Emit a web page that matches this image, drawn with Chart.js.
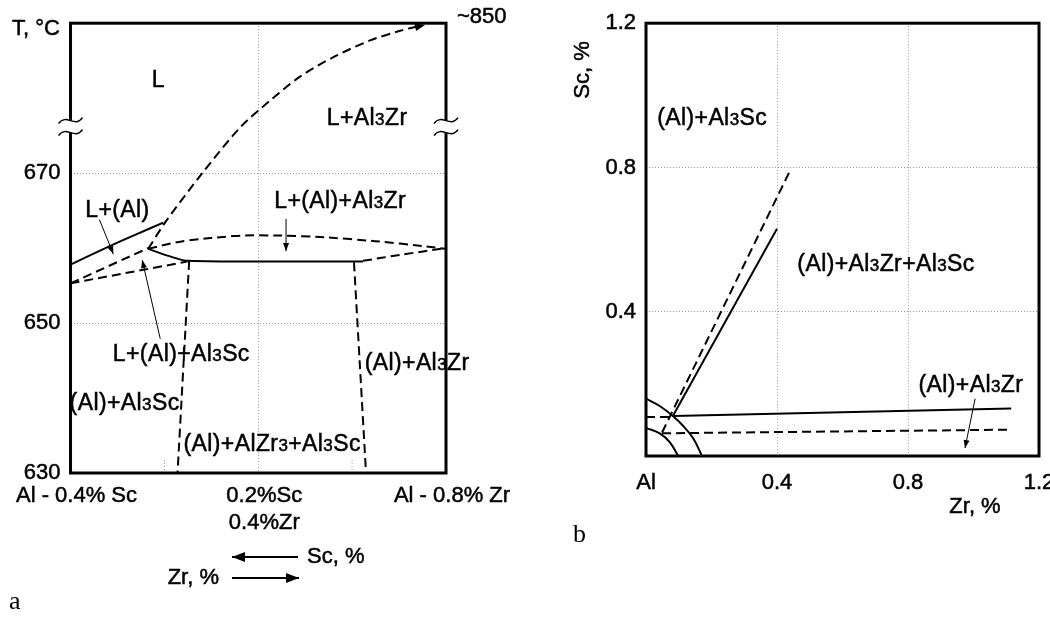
<!DOCTYPE html>
<html>
<head>
<meta charset="utf-8">
<script src="https://cdn.jsdelivr.net/npm/chart.js@4"></script>
<style>
  html, body { margin: 0; padding: 0; background: #fff; overflow: hidden; }
  body { width: 1050px; height: 621px; position: relative; }
  .box { position: absolute; top: 0; }
  #boxA { left: 0; }
  #boxB { left: 530px; }
</style>
</head>
<body>
<div class="box" id="boxA"><canvas id="chartA" width="540" height="621"></canvas></div>
<div class="box" id="boxB"><canvas id="chartB" width="540" height="621"></canvas></div>
<script>
// ---- (a) polythermal section Al-0.4%Sc -> Al-0.8%Zr ----
const sectionTicks = [0, 0.5, 1];
const sectionTickLabels = ['Al - 0.4% Sc', ['0.2%Sc', '0.4%Zr'], 'Al - 0.8% Zr'];
const tempTicks = [630, 650, 670];
const tempBreak = 676.2;          // axis is broken here, top edge is ~850
const minorTicksA = [0.25, 0.75];

const liquidusZrX = [0.207, 0.253, 0.351, 0.452, 0.532, 0.612, 0.705, 0.798, 0.878, 0.936];
const liquidusZrT = [659.9, 663.5, 670.0, 676.1, 679.7, 682.9, 685.6, 687.7, 689.0, 689.7];
const liquidusAlX = [0, 0.106, 0.178, 0.247];
const liquidusAlT = [657.8, 660.3, 661.9, 663.4];
const upperLeftX = [0, 0.207];
const upperLeftT = [655.3, 660.0];
const lowerLeftX = [0, 0.311];
const lowerLeftT = [655.3, 658.2];
const eutecticX = [0.207, 0.258, 0.314, 0.479, 0.779];
const eutecticT = [659.9, 659.0, 658.3, 658.2, 658.2];
const archX = [0.207, 0.266, 0.311, 0.434, 0.5, 0.612, 0.745, 0.878, 1.0];
const archT = [659.9, 660.6, 661.0, 661.6, 661.7, 661.6, 661.2, 660.6, 659.9];
const lowerRightX = [0.779, 0.878, 1.0];
const lowerRightT = [658.3, 659.1, 660.0];
const solvusScX = [0.316, 0.285];
const solvusScT = [658.3, 630];
const solvusZrX = [0.755, 0.787];
const solvusZrT = [658.1, 630];

// ---- (b) isothermal projection Zr-Sc ----
const zrTicks = [0, 0.4, 0.8, 1.2];
const zrTickLabels = ['Al', '0.4', '0.8', '1.2'];
const scTicks = [0.4, 0.8, 1.2];

const steepSolidZr = [0.082, 0.4];
const steepSolidSc = [0.111, 0.63];
const steepDashZr = [0.049, 0.437];
const steepDashSc = [0.065, 0.786];
const flatSolidZr = [0.082, 1.115];
const flatSolidSc = [0.111, 0.132];
const shortDashZr = [0, 0.082];
const shortDashSc = [0.108, 0.108];
const flatDashZr = [0.049, 1.112];
const flatDashSc = [0.063, 0.073];
const outerArcZr = [0, 0.043, 0.082, 0.113, 0.144, 0.171];
const outerArcSc = [0.159, 0.138, 0.111, 0.084, 0.049, 0];
const innerArcZr = [0, 0.043, 0.073, 0.098];
const innerArcSc = [0.078, 0.062, 0.038, 0];

const FONT = '"Liberation Sans", Arial, Helvetica, sans-serif';
const SERIF = '"Liberation Serif", "DejaVu Serif", serif';
const DASH = [9, 5];
const TICK_FONT = { family: FONT, size: 22 };

function pts(xs, ys) {
  return xs.map((x, i) => ({ x: x, y: ys[i] }));
}

function curve(xs, ys, dashed, extra) {
  return Object.assign({
    data: pts(xs, ys),
    showLine: true,
    borderColor: '#000',
    borderWidth: 2,
    borderDash: dashed ? DASH : [],
    pointRadius: 0,
    fill: false
  }, extra || {});
}

// digits that follow a letter (Al3Zr) are drawn smaller
function drawRich(ctx, str, cx, cy, size) {
  const runs = [];
  for (let i = 0; i < str.length; i++) {
    const small = /\d/.test(str[i]) && /[A-Za-z]/.test(str[i - 1] || '');
    const last = runs[runs.length - 1];
    if (last && last.small === small) last.t += str[i];
    else runs.push({ t: str[i], small: small });
  }
  ctx.letterSpacing = '0.4px';
  let w = 0;
  runs.forEach(r => {
    ctx.font = (r.small ? Math.round(size * 0.74) : size) + 'px ' + FONT;
    r.w = ctx.measureText(r.t).width;
    w += r.w;
  });
  let x = cx - w / 2;
  ctx.textAlign = 'left';
  ctx.textBaseline = 'alphabetic';
  ctx.lineWidth = 0.5;
  runs.forEach(r => {
    ctx.font = (r.small ? Math.round(size * 0.74) : size) + 'px ' + FONT;
    ctx.fillText(r.t, x, cy + size * 0.36);
    ctx.strokeText(r.t, x, cy + size * 0.36);
    x += r.w;
  });
  ctx.letterSpacing = '0px';
}

function plainText(ctx, str, x, y) {
  ctx.lineWidth = 0.5;
  ctx.fillText(str, x, y);
  ctx.strokeText(str, x, y);
}

function arrow(ctx, x1, y1, x2, y2, head, width) {
  ctx.beginPath();
  ctx.moveTo(x1, y1);
  ctx.lineTo(x2, y2);
  ctx.stroke();
  arrowHead(ctx, x1, y1, x2, y2, head, width);
}

function arrowHead(ctx, x1, y1, x2, y2, head, width) {
  const a = Math.atan2(y2 - y1, x2 - x1);
  const bx = x2 - head * Math.cos(a), by = y2 - head * Math.sin(a);
  ctx.beginPath();
  ctx.moveTo(x2, y2);
  ctx.lineTo(bx + width * Math.sin(a), by - width * Math.cos(a));
  ctx.lineTo(bx - width * Math.sin(a), by + width * Math.cos(a));
  ctx.closePath();
  ctx.fill();
}

function axisBreak(ctx, x, y) {
  ctx.fillStyle = '#fff';
  ctx.fillRect(x - 3, y - 6, 6, 12);
  ctx.strokeStyle = '#000';
  ctx.lineWidth = 1.5;
  [y - 6, y + 6].forEach(yy => {
    ctx.beginPath();
    ctx.moveTo(x - 12, yy + 3);
    ctx.bezierCurveTo(x - 4, yy - 8, x + 4, yy + 8, x + 12, yy - 3);
    ctx.stroke();
  });
  ctx.fillStyle = '#000';
}

const phaseLabelsA = [
  ['L', 0.234, 682.6],
  ['L+Al3Zr', 0.79, 677.5],
  ['L+(Al)', 0.125, 665.3],
  ['L+(Al)+Al3Zr', 0.718, 666.4],
  ['L+(Al)+Al3Sc', 0.295, 646.0],
  ['(Al)+Al3Zr', 0.923, 644.9],
  ['(Al)+Al3Sc', 0.144, 639.5],
  ['(Al)+AlZr3+Al3Sc', 0.537, 634.0]
];
const leadersA = [
  [0.077, 663.8, 0.114, 659.2],
  [0.239, 647.9, 0.191, 658.4],
  [0.574, 663.9, 0.574, 659.6]
];

const decoA = {
  id: 'decoA',
  afterDraw(chart) {
    const { ctx, chartArea: a, scales: { x, y } } = chart;
    ctx.save();
    // short dotted ticks at the bottom edge
    ctx.strokeStyle = '#999';
    ctx.lineWidth = 1;
    ctx.setLineDash([1, 2]);
    minorTicksA.forEach(v => {
      const px = x.getPixelForValue(v);
      ctx.beginPath();
      ctx.moveTo(px, a.bottom);
      ctx.lineTo(px, a.bottom - 13);
      ctx.stroke();
    });
    ctx.setLineDash([]);
    ctx.strokeStyle = '#000';
    ctx.fillStyle = '#000';
    ctx.lineWidth = 3;
    ctx.strokeRect(a.left, a.top, a.right - a.left, a.bottom - a.top);
    const yb = y.getPixelForValue(tempBreak);
    axisBreak(ctx, a.left, yb);
    axisBreak(ctx, a.right, yb);

    // arrow tip on the Al3Zr liquidus
    const n = liquidusZrX.length;
    arrowHead(ctx, x.getPixelForValue(liquidusZrX[n - 2]), y.getPixelForValue(liquidusZrT[n - 2]),
      x.getPixelForValue(liquidusZrX[n - 1]) + 3, y.getPixelForValue(liquidusZrT[n - 1]) - 0.5, 10, 4);

    phaseLabelsA.forEach(l => drawRich(ctx, l[0], x.getPixelForValue(l[1]), y.getPixelForValue(l[2]), 23));

    ctx.lineWidth = 1;
    leadersA.forEach(l => arrow(ctx, x.getPixelForValue(l[0]), y.getPixelForValue(l[1]),
      x.getPixelForValue(l[2]), y.getPixelForValue(l[3]), 8, 3));

    ctx.font = '22px ' + FONT;
    ctx.textBaseline = 'middle';
    ctx.textAlign = 'right';
    plainText(ctx, 'T, °C', 60, 29);
    ctx.textAlign = 'left';
    plainText(ctx, '~850', 457, 17);

    // composition direction arrows
    plainText(ctx, 'Sc, %', 307, 557);
    ctx.textAlign = 'right';
    plainText(ctx, 'Zr, %', 219, 578);
    ctx.lineWidth = 2;
    arrow(ctx, 298, 557, 232, 557, 13, 5);
    arrow(ctx, 232, 578, 299, 578, 13, 5);

    ctx.font = '26px ' + SERIF;
    ctx.textAlign = 'left';
    ctx.fillText('a', 9, 602);
    ctx.restore();
  }
};

new Chart(document.getElementById('chartA'), {
  type: 'scatter',
  data: {
    datasets: [
      curve(liquidusZrX, liquidusZrT, true, { tension: 0.3 }),
      curve(liquidusAlX, liquidusAlT, false, { tension: 0.3 }),
      curve(upperLeftX, upperLeftT, true),
      curve(lowerLeftX, lowerLeftT, true),
      curve(eutecticX, eutecticT, false, { cubicInterpolationMode: 'monotone' }),
      curve(archX, archT, true, { tension: 0.35 }),
      curve(lowerRightX, lowerRightT, true, { tension: 0.3 }),
      curve(solvusScX, solvusScT, true),
      curve(solvusZrX, solvusZrT, true)
    ]
  },
  options: {
    responsive: false,
    animation: false,
    layout: { padding: { top: 11, right: 94, left: 0, bottom: 0 } },
    plugins: { legend: { display: false }, tooltip: { enabled: false } },
    scales: {
      x: {
        type: 'linear', min: 0, max: 1,
        afterFit: s => { s.height = 148; },
        ticks: {
          stepSize: 0.5, padding: 10, labelOffset: 6, maxRotation: 0, autoSkip: false,
          color: '#000', font: TICK_FONT, textStrokeColor: '#000', textStrokeWidth: 0.5,
          callback: v => {
            const i = sectionTicks.indexOf(v);
            return i < 0 ? null : sectionTickLabels[i];
          }
        },
        grid: { color: '#999', lineWidth: 1, drawTicks: false },
        border: { display: false, dash: [1, 2] }
      },
      y: {
        type: 'linear', min: 630, max: 690,
        afterFit: s => { s.width = 70; },
        ticks: {
          stepSize: 20, padding: 10,
          color: '#000', font: TICK_FONT, textStrokeColor: '#000', textStrokeWidth: 0.5,
          callback: v => tempTicks.includes(v) ? String(v) : null
        },
        grid: { color: '#999', lineWidth: 1, drawTicks: false },
        border: { display: false, dash: [1, 2] }
      }
    }
  },
  plugins: [decoA]
});

const phaseLabelsB = [
  ['(Al)+Al3Sc', 0.202, 0.94],
  ['(Al)+Al3Zr+Al3Sc', 0.733, 0.535],
  ['(Al)+Al3Zr', 0.992, 0.2]
];
const leadersB = [
  [1.005, 0.159, 0.974, 0.022]
];

const decoB = {
  id: 'decoB',
  afterDraw(chart) {
    const { ctx, chartArea: a, scales: { x, y } } = chart;
    ctx.save();
    ctx.strokeStyle = '#000';
    ctx.fillStyle = '#000';
    ctx.lineWidth = 3;
    ctx.strokeRect(a.left, a.top, a.right - a.left, a.bottom - a.top);

    phaseLabelsB.forEach(l => drawRich(ctx, l[0], x.getPixelForValue(l[1]), y.getPixelForValue(l[2]), 23));
    ctx.lineWidth = 1;
    leadersB.forEach(l => arrow(ctx, x.getPixelForValue(l[0]), y.getPixelForValue(l[1]),
      x.getPixelForValue(l[2]), y.getPixelForValue(l[3]), 8, 3));

    ctx.font = '22px ' + FONT;
    ctx.textBaseline = 'middle';
    ctx.textAlign = 'center';
    plainText(ctx, 'Zr, %', 445, 507);
    ctx.save();
    ctx.translate(53, 70);
    ctx.rotate(-Math.PI / 2);
    plainText(ctx, 'Sc, %', 0, 0);
    ctx.restore();

    ctx.font = '26px ' + SERIF;
    ctx.textAlign = 'left';
    ctx.fillText('b', 43, 535);
    ctx.restore();
  }
};

new Chart(document.getElementById('chartB'), {
  type: 'scatter',
  data: {
    datasets: [
      curve(steepDashZr, steepDashSc, true),
      curve(steepSolidZr, steepSolidSc, false),
      curve(flatSolidZr, flatSolidSc, false),
      curve(shortDashZr, shortDashSc, true),
      curve(flatDashZr, flatDashSc, true),
      curve(outerArcZr, outerArcSc, false, { tension: 0.4 }),
      curve(innerArcZr, innerArcSc, false, { tension: 0.4 })
    ]
  },
  options: {
    responsive: false,
    animation: false,
    layout: { padding: { top: 12, right: 31, left: 0, bottom: 0 } },
    plugins: { legend: { display: false }, tooltip: { enabled: false } },
    scales: {
      x: {
        type: 'linear', min: 0, max: 1.2,
        afterFit: s => { s.height = 165; },
        ticks: {
          stepSize: 0.4, padding: 14, maxRotation: 0, autoSkip: false,
          color: '#000', font: TICK_FONT, textStrokeColor: '#000', textStrokeWidth: 0.5,
          callback: v => {
            const i = zrTicks.indexOf(Math.round(v * 10) / 10);
            return i < 0 ? null : zrTickLabels[i];
          }
        },
        grid: { color: '#999', lineWidth: 1, drawTicks: false },
        border: { display: false, dash: [1, 2] }
      },
      y: {
        type: 'linear', min: 0, max: 1.2,
        afterFit: s => { s.width = 116; },
        ticks: {
          stepSize: 0.4, padding: 10,
          color: '#000', font: TICK_FONT, textStrokeColor: '#000', textStrokeWidth: 0.5,
          callback: v => {
            const r = Math.round(v * 10) / 10;
            return scTicks.includes(r) ? r.toFixed(1) : null;
          }
        },
        grid: { color: '#999', lineWidth: 1, drawTicks: false },
        border: { display: false, dash: [1, 2] }
      }
    }
  },
  plugins: [decoB]
});
</script>
</body>
</html>
